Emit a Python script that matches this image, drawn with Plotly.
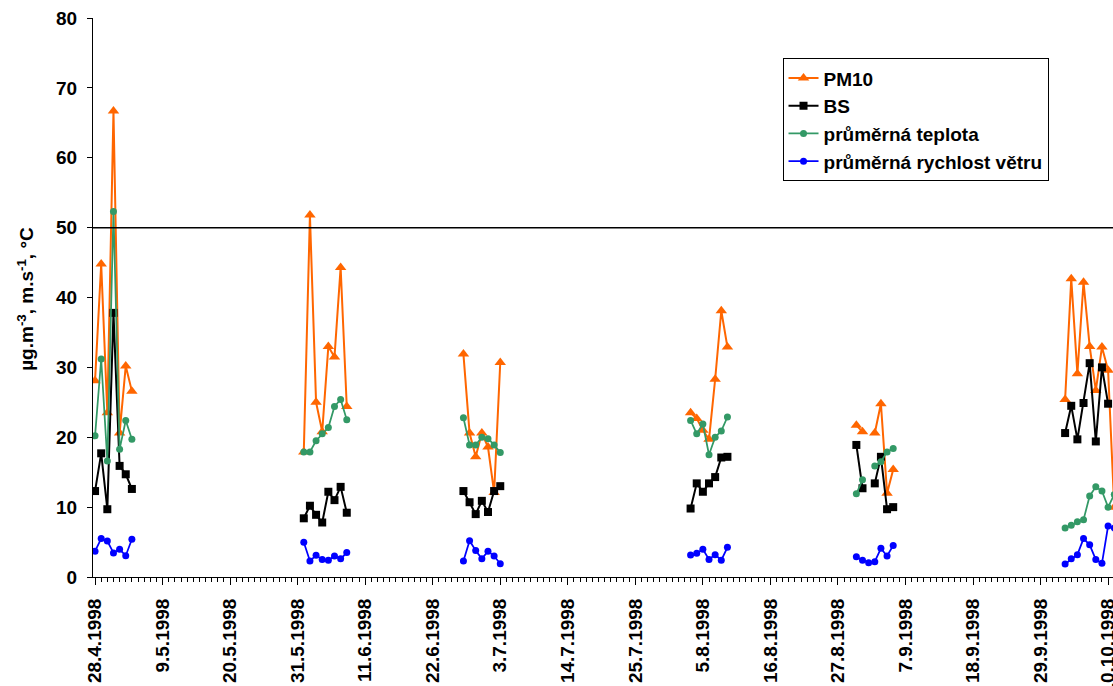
import pandas as pd
import plotly.graph_objects as go

# ---- data ----
cluster_starts = ["1998-04-28", "1998-06-01", "1998-06-27", "1998-08-03", "1998-08-30", "1998-10-03"]

pm10_c = [
    [28.1, 44.8, 23.5, 66.7, 20.6, 30.2, 26.6],
    [17.9, 51.8, 25.0, 20.8, 33.0, 31.5, 44.3, 24.4],
    [31.9, 20.6, 17.2, 20.6, 18.6, 12.1, 30.7],
    [23.5, 22.7, 21.0, 19.7, 28.3, 38.1, 32.9],
    [21.7, 20.8, None, 20.6, 24.8, 12.0, 15.4],
    [25.4, 42.7, 29.1, 42.2, 33.0, 26.7, 32.9, 29.6, 10.0],
]
bs_c = [
    [12.3, 17.7, 9.7, 37.8, 15.9, 14.7, 12.6],
    [8.4, 10.2, 8.9, 7.8, 12.2, 11.0, 12.9, 9.2],
    [12.3, 10.7, 9.0, 10.9, 9.3, 12.3, 13.0],
    [9.8, 13.4, 12.2, 13.4, 14.3, 17.1, 17.2],
    [18.9, 12.7, None, 13.4, 17.2, 9.7, 10.0],
    [20.6, 24.5, 19.7, 24.9, 30.6, 19.4, 30.0, 24.8, None],
]
temp_c = [
    [20.2, 31.2, 16.6, 52.3, 18.3, 22.4, 19.7],
    [17.9, 17.9, 19.5, 20.5, 21.4, 24.4, 25.4, 22.5],
    [22.8, 18.9, 18.9, 20.0, 19.8, 18.9, 17.8],
    [22.4, 20.5, 21.9, 17.5, 20.0, 20.9, 22.9],
    [11.9, 13.9, None, 15.9, 16.5, 17.9, 18.4],
    [7.0, 7.4, 7.9, 8.2, 11.6, 12.9, 12.3, 10.0, 11.8],
]
wind_c = [
    [3.7, 5.5, 5.15, 3.45, 3.96, 3.05, 5.4],
    [4.96, 2.3, 3.1, 2.5, 2.4, 3.0, 2.6, 3.5],
    [2.3, 5.2, 3.8, 2.6, 3.7, 3.0, 1.9],
    [3.15, 3.4, 3.96, 2.5, 3.2, 2.4, 4.25],
    [2.9, 2.4, 2.05, 2.2, 4.1, 3.0, 4.5],
    [1.86, 2.6, 3.2, 5.5, 4.6, 2.5, 1.96, 7.3, 7.0],
]

limit_value = 50
series_names = ["PM10", "BS", "průměrná teplota", "průměrná rychlost větru"]
y_title = "µg.m<sup>-3</sup>, m.s<sup>-1</sup>, °C"


def flatten(clusters):
    xs, ys = [], []
    for start, vals in zip(cluster_starts, clusters):
        d = pd.date_range(start, periods=len(vals), freq="D")
        xs += list(d.strftime("%Y-%m-%d"))
        ys += vals
        xs.append(None)
        ys.append(None)
    return xs, ys


FONT = "Liberation Sans, Arial, sans-serif"
fig = go.Figure()

styles = [
    (pm10_c, "#FF6600", "triangle-up", 10, 2),
    (bs_c, "#000000", "square", 8, 2),
    (temp_c, "#339966", "circle", 7, 1.75),
    (wind_c, "#0000FF", "circle", 7, 1.75),
]
for name, (clusters, color, sym, size, lw) in zip(series_names, styles):
    xs, ys = flatten(clusters)
    fig.add_trace(go.Scatter(
        x=xs, y=ys, name=name, mode="lines+markers",
        line=dict(color=color, width=lw),
        marker=dict(symbol=sym, size=size, color=color, line=dict(width=0)),
        connectgaps=False, legendgroup=name,
    ))

fig.add_shape(type="line", xref="paper", x0=0, x1=1, yref="y", y0=limit_value, y1=limit_value,
              line=dict(color="black", width=1.5))

fig.add_annotation(text=y_title, xref="paper", yref="paper", x=-0.066, y=0.497,
                   textangle=-90, showarrow=False, xanchor="center", yanchor="middle",
                   font=dict(family=FONT, size=19, color="black", weight="bold"))

fig.update_layout(
    width=1113, height=686,
    margin=dict(l=93, r=0, t=18, b=109),
    paper_bgcolor="white", plot_bgcolor="white",
    font=dict(family=FONT, size=19, color="black", weight="bold"),
    showlegend=True,
    legend=dict(x=0.676, y=0.928, xanchor="left", yanchor="top",
                bordercolor="black", borderwidth=1, bgcolor="white",
                font=dict(family=FONT, size=19, color="black", weight="bold"),
                traceorder="grouped", tracegroupgap=0, itemwidth=30),
    xaxis=dict(
        type="date",
        range=["1998-04-27 16:00", "1998-10-10 19:12"],
        tick0="1998-04-28", dtick=11 * 86400000,
        tickformat="%-d.%-m.%Y", tickangle=-90,
        ticks="outside", ticklen=7, tickcolor="black", tickwidth=1,
        showline=True, linecolor="black", linewidth=1,
        showgrid=False, zeroline=False, automargin=False,
        ticklabelstandoff=6, ticklabeloverflow="allow",
        minor=dict(dtick=86400000, tick0="1998-04-28", ticks="outside", ticklen=4,
                   tickcolor="black", tickwidth=1, showgrid=False),
        tickfont=dict(family=FONT, size=19, color="black", weight="bold"),
    ),
    yaxis=dict(
        range=[0, 80], dtick=10, tick0=0,
        ticks="outside", ticklen=5, tickcolor="black", tickwidth=1,
        showline=True, linecolor="black", linewidth=1,
        showgrid=False, zeroline=False, automargin=False,
        ticklabelstandoff=6,
        tickfont=dict(family=FONT, size=19, color="black", weight="bold"),
    ),
)

fig.write_html("out.html", config={"displayModeBar": False},
               post_script="document.body.style.margin='0';document.body.style.overflow='hidden';")
